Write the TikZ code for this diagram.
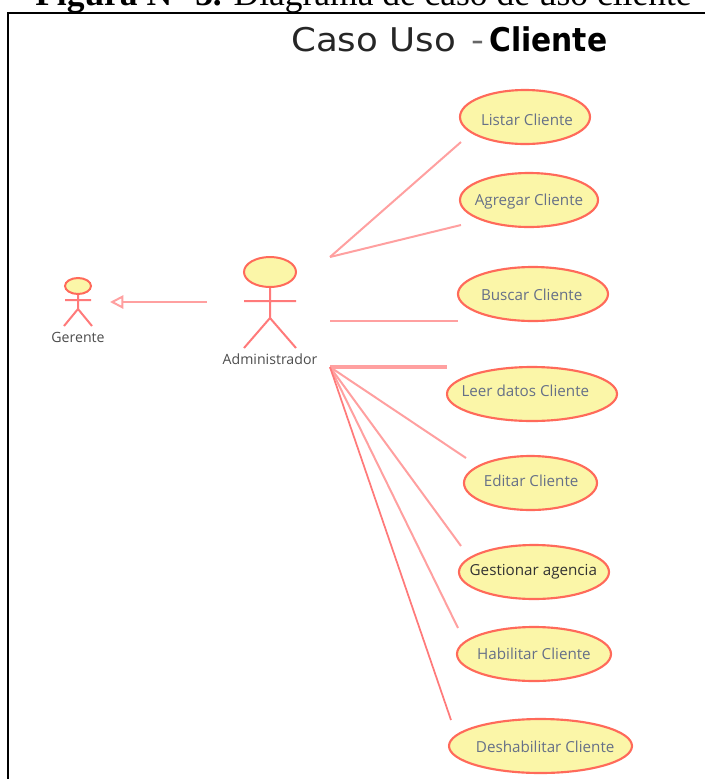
\documentclass[tikz,border=0pt]{standalone}
\usepackage{fontspec}
\usepackage{graphicx}
\setmainfont{Liberation Serif}
\newfontfamily\labelfont{Open Sans}
\newfontfamily\titlefont{DejaVu Sans}
\definecolor{umlline}{HTML}{FFA0A0}
\definecolor{umldark}{HTML}{FF7A7A}
\definecolor{umlborder}{HTML}{FF6A5A}
\definecolor{umlfill}{HTML}{FBF6A8}
\definecolor{usetext}{HTML}{667088}
\newcommand{\uctext}[3]{\makebox[0pt]{\hspace*{#1}\raisebox{\dimexpr #2-4pt\relax}[0pt][0pt]{#3}}}
\tikzset{
  usecase/.style={ellipse,draw=umlborder,fill=umlfill,line width=1.6pt,inner sep=0pt,font=\labelfont\fontsize{11.4}{13}\selectfont,text=usetext},
  assoc/.style={draw=umlline,line width=1.5pt},
  assocthick/.style={draw=umlline,line width=2.4pt},
  assocdark/.style={draw=umldark,line width=1.3pt},
  limb/.style={draw=umldark,line width=1.5pt},
  actorhead/.style={ellipse,draw=umlborder,fill=umlfill,line width=1.5pt,inner sep=0pt},
  actorname/.style={font=\labelfont\fontsize{10.6}{12}\selectfont,text=black!70},
}
\usetikzlibrary{shapes.geometric,arrows.meta}
\begin{document}
\begin{tikzpicture}[x=0.75pt,y=-0.75pt]
\useasboundingbox (0,0) rectangle (705,779);
\clip (0,0) rectangle (705,779);
\node[anchor=base west,inner sep=0pt,font=\fontsize{26.6}{28}\selectfont] (caption) at (35,5) {\textbf{Figura N° 3.} Diagrama de caso de uso cliente};
\draw[line width=1.5pt] (8,779) -- (8,13) -- (705,13);
\node[anchor=base west,inner sep=0pt,font=\titlefont\fontsize{24.5}{26}\selectfont,text=black!85] (title) at (291,51) {\scalebox{1.09}[1]{Caso Uso}};
\node[anchor=base west,inner sep=0pt,font=\titlefont\fontsize{24.5}{26}\selectfont,text=black!60] (titledash) at (471,51) {\scalebox{1.09}[1]{-}};
\node[anchor=base west,inner sep=0pt,font=\titlefont\bfseries\fontsize{24.5}{26}\selectfont,text=black] (titlebold) at (489,51) {\scalebox{0.91}[1]{Cliente}};

\node[usecase,minimum width=97.5,minimum height=40.5] (listar) at (525,117) {\uctext{3pt}{-2pt}{Listar Cliente}};
\node[usecase,minimum width=103.5,minimum height=40.5] (agregar) at (529,200) {\uctext{0pt}{0pt}{Agregar Cliente}};
\node[usecase,minimum width=112.5,minimum height=40.5] (buscar) at (533,294) {\uctext{-2pt}{-0.5pt}{Buscar Cliente}};
\node[usecase,minimum width=127.5,minimum height=40.5] (leer) at (532,394) {\uctext{-10pt}{2pt}{Leer datos Cliente}};
\node[usecase,minimum width=99.75,minimum height=40.5] (editar) at (530.5,483) {\uctext{1pt}{1.5pt}{Editar Cliente}};
\node[usecase,minimum width=112.5,minimum height=40.5,text=black!80] (gestionar) at (534,572) {\uctext{-1pt}{1.5pt}{Gestionar agencia}};
\node[usecase,minimum width=115.5,minimum height=40.5] (habilitar) at (534,654) {\uctext{0pt}{0pt}{Habilitar Cliente}};
\node[usecase,minimum width=137.25,minimum height=40.5] (deshabilitar) at (540.5,746) {\uctext{7pt}{-0.5pt}{Deshabilitar Cliente}};

% Administrador
\node[actorhead,minimum width=39,minimum height=22.5] (adminhead) at (270,272) {};
\coordinate (adminhip) at (270,318);
\coordinate (adminarml) at (244,301);
\coordinate (adminarmr) at (296,301);
\coordinate (adminlegl) at (244,348);
\coordinate (adminlegr) at (296,348);
\draw[limb] (adminhead) -- (adminhip) (adminarml) -- (adminarmr) (adminlegl) -- (adminhip) -- (adminlegr);
\node[actorname] (adminname) at (270,359) {Administrador};

% Gerente
\node[actorhead,minimum width=19.5,minimum height=12] (gerhead) at (78,286) {};
\coordinate (gerhip) at (78,309);
\coordinate (gerarml) at (65,300);
\coordinate (gerarmr) at (91,300);
\coordinate (gerlegl) at (64,326);
\coordinate (gerlegr) at (92,326);
\draw[limb] (gerhead) -- (gerhip) (gerarml) -- (gerarmr) (gerlegl) -- (gerhip) -- (gerlegr);
\node[actorname] (gername) at (78,337) {Gerente};

% generalisation
\coordinate (genfrom) at (207,302);
\coordinate (gento) at (110,302);
\draw[assoc,-{Triangle[open,length=10pt,width=10pt,fill=white]}] (genfrom) -- (gento);

% associations
\coordinate (hubA) at (330,257);
\coordinate (hubB) at (330,321);
\coordinate (hubC) at (330,367);
\coordinate (endlistar) at (461,142);
\coordinate (endagregar) at (461,225);
\coordinate (endbuscar) at (458,321);
\coordinate (endleer) at (447,367);
\coordinate (endeditar) at (466,458);
\coordinate (endgestionar) at (461,546);
\coordinate (endhabilitar) at (458,628);
\coordinate (enddeshabilitar) at (451,720);
\draw[assoc] (hubA) -- (endlistar);
\draw[assoc] (hubA) -- (endagregar);
\draw[assoc] (hubB) -- (endbuscar);
\draw[assocthick] (hubC) -- (endleer);
\draw[assoc] (hubC) -- (endeditar);
\draw[assoc] (hubC) -- (endgestionar);
\draw[assoc] (hubC) -- (endhabilitar);
\draw[assocdark] (hubC) -- (enddeshabilitar);
\end{tikzpicture}
\end{document}
